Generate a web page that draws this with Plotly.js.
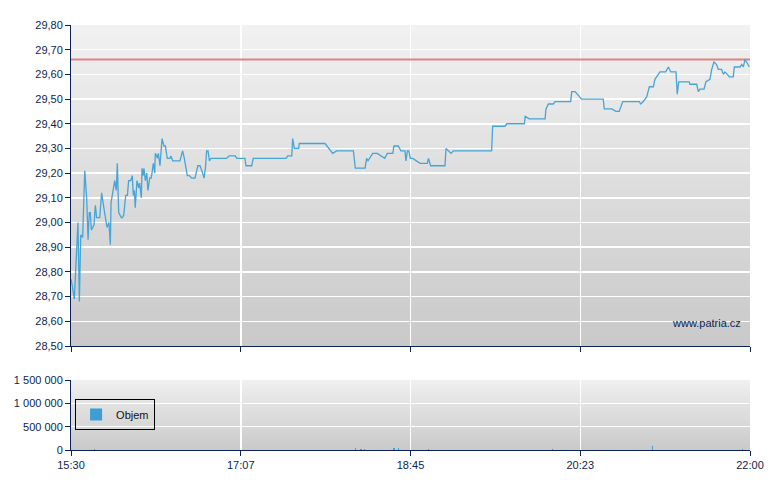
<!DOCTYPE html>
<html>
<head>
<meta charset="utf-8">
<script src="https://cdn.plot.ly/plotly-3.0.1.min.js"></script>
<style>html,body{margin:0;padding:0;background:#fff;}</style>
</head>
<body>
<div id="chart" style="width:780px;height:490px;"></div>
<script>
// minutes after 15:30 for each trade / price point
const priceMinutes = [0,0.6,1.9,4.0,4.8,5.6,6.7,7.1,7.9,9.0,9.8,10.5,11.1,11.7,13.2,14.0,14.7,16.5,17.6,19.3,20.7,21.8,22.6,23.0,25.1,26.0,26.6,27.4,28.9,29.5,30.3,31.4,32.4,33.1,34.3,35.2,35.8,36.4,36.9,37.9,38.9,39.4,40.4,40.8,41.4,41.9,42.7,43.5,44.2,45.2,46.1,46.7,47.3,48.1,48.4,49.2,49.6,50.2,51.1,52.3,53.4,54.2,
55.3,56.9,57.4,58.4,62.6,64.1,65.1,66.8,68.0,69.3,71.2,72.9,74.1,75.6,76.4,77.2,77.9,78.7,79.5,80.4,89.4,90.8,94.4,95.2,99.9,100.5,103.8,104.7,
123.5,124.5,126.8,127.3,128.3,130.8,131.1,145.9,150.3,152.6,162.2,163.3,168.9,169.8,170.6,173.3,175.9,180.2,181.7,184.8,185.5,188.0,189.5,191.8,192.4,193.2,194.1,194.9,196.3,200.5,204.7,205.3,206.6,214.8,215.4,218.3,219.6,229.6,230.5,241.6,242.2,249.3,250.3,
260.4,260.9,263.2,272.3,272.8,274.2,277.0,278.0,287.0,287.6,289.5,293.3,305.7,306.3,310.6,313.0,314.9,316.9,326.4,327.2,328.7,330.7,332.2,334.5,335.4,338.3,341.6,343.1,344.5,347.5,348.2,349.1,355.1,355.5,359.4,360.3,361.3,363.6,364.7,367.0,368.0,369.3,370.8,371.8,373.7,374.7,375.6,377.0,378.1,380.4,381.0,384.3,385.2,386.2,387.1,388.1,389.6];
const prices = [28.77,28.75,28.69,29.00,28.68,28.95,28.94,29.05,29.21,29.10,28.93,29.04,29.04,28.97,28.99,29.07,29.02,29.02,29.12,29.04,28.98,29.00,28.91,29.08,29.17,29.13,29.24,29.04,29.02,29.02,29.03,29.11,29.11,29.17,29.17,29.19,29.11,29.13,29.06,29.17,29.14,29.16,29.10,29.22,29.19,29.22,29.17,29.20,29.13,29.18,29.18,29.21,29.24,29.20,29.28,29.27,29.26,29.28,29.23,29.34,29.31,29.31,
29.26,29.26,29.27,29.25,29.25,29.29,29.26,29.19,29.19,29.18,29.18,29.23,29.23,29.20,29.18,29.22,29.29,29.29,29.25,29.26,29.26,29.27,29.27,29.26,29.26,29.23,29.23,29.26,
29.26,29.27,29.27,29.34,29.30,29.30,29.32,29.32,29.28,29.29,29.29,29.22,29.22,29.26,29.25,29.28,29.28,29.26,29.28,29.28,29.31,29.31,29.29,29.29,29.25,29.29,29.29,29.26,29.26,29.24,29.24,29.26,29.23,29.23,29.30,29.28,29.29,29.29,29.29,29.29,29.39,29.39,29.40,
29.40,29.43,29.42,29.42,29.46,29.48,29.48,29.49,29.49,29.53,29.53,29.50,29.50,29.46,29.46,29.45,29.45,29.49,29.49,29.48,29.49,29.51,29.55,29.55,29.58,29.61,29.61,29.63,29.61,29.61,29.52,29.57,29.57,29.56,29.56,29.53,29.54,29.54,29.57,29.58,29.62,29.65,29.64,29.62,29.62,29.60,29.61,29.60,29.59,29.59,29.63,29.63,29.64,29.63,29.66,29.65,29.63];

// reference (previous close) level
const referencePrice = 29.66;
const sessionSpan = [0, 390];

// volume bars
const volumeMinutes = [8.0,13.4,47.3,163.5,166.6,168.5,185.5,188.0,205.2,276.7,334.1,385.6];
const volumes = [10000,12000,10000,50000,25000,30000,35000,35000,20000,27000,85000,20000];

// axis ticks
const timeTickVals = [0, 97.5, 195, 292.5, 390];
const timeTickText = ['15:30', '17:07', '18:45', '20:23', '22:00'];

const navy = '#0b2256';
const textNavy = '#0c1f4f';

const traces = [
  {
    x: sessionSpan, y: [referencePrice, referencePrice],
    xaxis: 'x', yaxis: 'y', type: 'scatter', mode: 'lines',
    line: {color: 'rgba(222,110,110,0.85)', width: 2},
    hoverinfo: 'skip', showlegend: false
  },
  {
    x: priceMinutes, y: prices,
    xaxis: 'x', yaxis: 'y', type: 'scatter', mode: 'lines',
    line: {color: '#46a4d6', width: 1.3},
    showlegend: false, name: 'Cena'
  },
  {
    x: volumeMinutes, y: volumes,
    xaxis: 'x2', yaxis: 'y2', type: 'bar', width: 0.7,
    marker: {color: '#3b9fd6', line: {width: 0}},
    name: 'Objem', showlegend: true
  }
];

// gradient backgrounds via overlapping stacked bands
const shapes = [];
function gradient(yref, top, bottom, n) {
  for (let i = 0; i < n; i++) {
    const f = (i + 0.5) / n; // 0 bottom -> 1 top
    const c = Math.round(bottom + (top - bottom) * f);
    shapes.push({
      type: 'rect', xref: 'x domain', yref: yref + ' domain',
      x0: 0, x1: 1, y0: i / n, y1: Math.min(1, (i + 1.6) / n),
      fillcolor: 'rgb(' + c + ',' + c + ',' + c + ')',
      line: {width: 0}, layer: 'below'
    });
  }
}
gradient('y', 241, 201, 60);
gradient('y2', 240, 201, 20);

const axisCommon = {
  showline: true, linecolor: navy, linewidth: 1,
  ticks: 'outside', ticklen: 5, tickcolor: navy, tickwidth: 1,
  showgrid: true, gridcolor: '#ffffff', gridwidth: 1.5,
  zeroline: false, fixedrange: true,
  tickfont: {family: 'Liberation Sans, Arial, sans-serif', size: 11, color: textNavy}
};

const layout = Object.assign({
  width: 780, height: 490,
  margin: {l: 71, r: 30, t: 25, b: 40},
  paper_bgcolor: '#ffffff', plot_bgcolor: '#ffffff',
  separators: ', ',
  font: {family: 'Liberation Sans, Arial, sans-serif', size: 11, color: textNavy},
  showlegend: true,
  bargap: 0,
  legend: {
    x: 0.006, y: 0.12, xanchor: 'left', yanchor: 'top',
    bgcolor: 'rgba(0,0,0,0)', bordercolor: '#000', borderwidth: 1,
    font: {family: 'Liberation Sans, Arial, sans-serif', size: 11, color: '#111'},
    itemwidth: 30
  },
  shapes: shapes,
  annotations: [{
    text: 'www.patria.cz', xref: 'paper', yref: 'paper',
    x: 0.9897, y: 0.2988, xanchor: 'right', yanchor: 'middle',
    showarrow: false, font: {family: 'Liberation Sans, Arial, sans-serif', size: 11, color: textNavy}
  }]
}, {
  xaxis: Object.assign({}, axisCommon, {
    domain: [0, 1], anchor: 'y', range: sessionSpan,
    tickmode: 'array', tickvals: timeTickVals, ticktext: timeTickText,
    showticklabels: false
  }),
  yaxis: Object.assign({}, axisCommon, {
    domain: [0.2447, 1], anchor: 'x', range: [28.5, 29.8],
    tick0: 28.5, dtick: 0.1, tickformat: '.2f'
  }),
  xaxis2: Object.assign({}, axisCommon, {
    domain: [0, 1], anchor: 'y2', range: sessionSpan,
    tickmode: 'array', tickvals: timeTickVals, ticktext: timeTickText
  }),
  yaxis2: Object.assign({}, axisCommon, {
    domain: [0, 0.1647], anchor: 'x2', range: [0, 1500000],
    tick0: 0, dtick: 500000, tickformat: ',d'
  })
});

Plotly.newPlot('chart', traces, layout, {displayModeBar: false, staticPlot: true});
</script>
</body>
</html>
